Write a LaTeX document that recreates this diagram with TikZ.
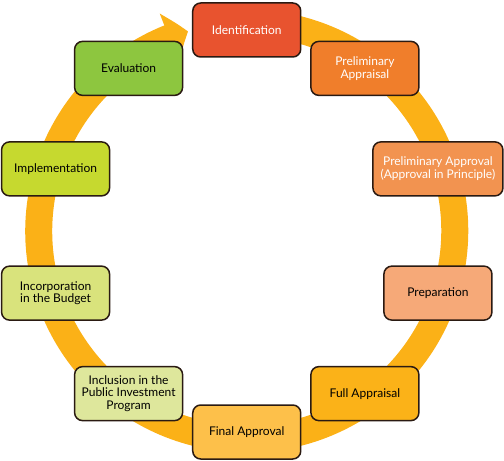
\documentclass[tikz,border=0pt]{standalone}
\usepackage{fontspec}
\setmainfont{Lato}
\usepackage{tikz}
\usetikzlibrary{arrows.meta, bending}

\definecolor{ringgelb}{HTML}{FBB117}
\definecolor{rahmen}{HTML}{2A1A12}
\definecolor{farbeA}{HTML}{E8532F}
\definecolor{farbeB}{HTML}{F07E2B}
\definecolor{farbeC}{HTML}{F29350}
\definecolor{farbeD}{HTML}{F6A978}
\definecolor{farbeE}{HTML}{FBB218}
\definecolor{farbeF}{HTML}{FDC04A}
\definecolor{farbeG}{HTML}{DEE79C}
\definecolor{farbeH}{HTML}{D9E37C}
\definecolor{farbeI}{HTML}{C6D92F}
\definecolor{farbeJ}{HTML}{8DC63F}

\begin{document}
\begin{tikzpicture}[
            x=1pt, y=1pt,
            kasten/.style={
                    draw=rahmen,
                    line width=1.5pt,
                    rounded corners=8pt,
                    minimum width=108pt,
                    minimum height=54pt,
                    align=center,
                    inner sep=1pt,
                    font=\fontsize{12}{12.8}\selectfont
                },
            hell/.style={
                    kasten,
                    text=white
                },
            pfeil/.style={
                    draw,
                    -{Triangle[length=20pt, width=52pt, bend]},
                    line width=27pt,
                    color=ringgelb
                }
        ]

        \useasboundingbox (-246.75,-230) rectangle (257.25,231);

        \draw[pfeil] (80:208pt) arc[start angle=80, end angle=-253.6, radius=208pt];

        \node[hell, fill=farbeA] (ident) at (90:201pt) {Identification};
        \node[hell, fill=farbeB] (vorpruef) at (54:201pt) {Preliminary\\Appraisal};
        \node[hell, fill=farbeC, minimum width=130pt] (vorgen) at (18:201pt) {Preliminary Approval\\(Approval in Principle)};
        \node[kasten, fill=farbeD] (vorb) at (-18:201pt) {Preparation};
        \node[kasten, fill=farbeE] (pruef) at (-54:201pt) {Full Appraisal};
        \node[kasten, fill=farbeF] (gen) at (-90:201pt) {Final Approval};
        \node[kasten, fill=farbeG] (progr) at (-126:201pt) {Inclusion in the\\Public Investment\\Program};
        \node[kasten, fill=farbeH] (haush) at (-162:201pt) {Incorporation\\in the Budget};
        \node[kasten, fill=farbeI] (umsetz) at (162:201pt) {Implementation};
        \node[kasten, fill=farbeJ] (bewert) at (126:201pt) {Evaluation};

    \end{tikzpicture}
\end{document}
